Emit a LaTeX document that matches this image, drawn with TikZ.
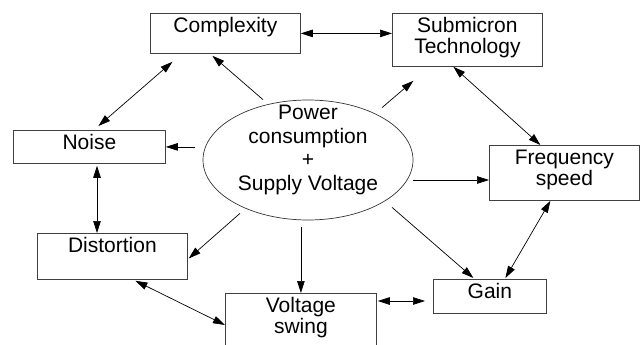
\documentclass[tikz,border=0pt]{standalone}
\usepackage{fontspec}
\setmainfont{Liberation Sans}
\usetikzlibrary{arrows.meta,shapes.geometric}

\begin{document}
\begin{tikzpicture}[x=1pt,y=-1pt,
  box/.style={draw=black!75,line width=0.8pt,rectangle,anchor=north west,inner sep=0pt,
    text height=19pt,align=center,font=\fontsize{21}{21.5}\selectfont},
  link/.style={line width=0.7pt,>={Triangle[length=12pt,width=7.5pt]}}]
\useasboundingbox (0,0) rectangle (641,345);
\node[box,minimum width=150pt,text depth=21pt] (cplx) at (150,13) {Complexity};
\node[box,minimum width=150pt,text height=40.5pt,text depth=12.5pt] (subm) at (392,13) {Submicron\\Technology};
\node[box,minimum width=152pt,text depth=14pt] (noise) at (13,130) {Noise};
\node[box,minimum width=150pt,text height=40.5pt,text depth=14.5pt] (freq) at (489,145) {Frequency\\speed};
\node[box,minimum width=150pt,text depth=27pt] (dist) at (37,233) {Distortion};
\node[box,minimum width=151pt,text height=40.5pt,text depth=40pt] (swing) at (225,293) {Voltage\\swing};
\node[box,minimum width=113pt,text depth=15pt] (gain) at (433,279) {Gain};
\node[ellipse,draw=black!80,line width=0.7pt,inner sep=0pt,minimum width=210pt,minimum height=120pt,
  text height=65pt,text depth=5pt,align=center,font=\fontsize{21}{23.5}\selectfont]
  (ell) at (308,160) {Power\\consumption\\+\\Supply Voltage};
\draw[link,<->] (cplx.east) -- (cplx.east -| subm.west);
\draw[link,<->] ([shift={(9,-4)}]noise.north) -- ([shift={(-53,8)}]cplx.south);
\draw[link,->] ([shift={(-45,0)}]ell.north) -- ([shift={(-13,2)}]cplx.south);
\draw[link,->,shorten <=8pt] (ell.west |- noise.east) -- (noise.east);
\draw[link,->] ([shift={(74,8)}]ell.north) -- ([shift={(-54,14)}]subm.south);
\draw[link,<->] ([xshift=-14pt]subm.south) -- ([xshift=-24pt]freq.north);
\draw[link,->] (ell.east |- 0,180) -- (freq.west |- 0,180);
\draw[link,<->,shorten <=2pt] (noise.south -| 97,0) -- (dist.north -| 97,0);
\draw[link,->] ([shift={(-68,-7)}]ell.south) -- ([shift={(1,2)}]dist.east);
\draw[link,->] (swing.north |- 0,227) -- (swing.north);
\draw[link,->] ([shift={(84,-13)}]ell.south) -- ([shift={(-16.5,-1)}]gain.north);
\draw[link,<->] ([xshift=-14pt]freq.south) -- ([shift={(15.5,-1)}]gain.north);
\draw[link,<->,shorten <=1pt,shorten >=8pt] (swing.east |- 0,301) -- (gain.west |- 0,301);
\draw[link,<->] ([shift={(23,1)}]dist.south) -- ([shift={(0,32)}]swing.north west);
\end{tikzpicture}
\end{document}
